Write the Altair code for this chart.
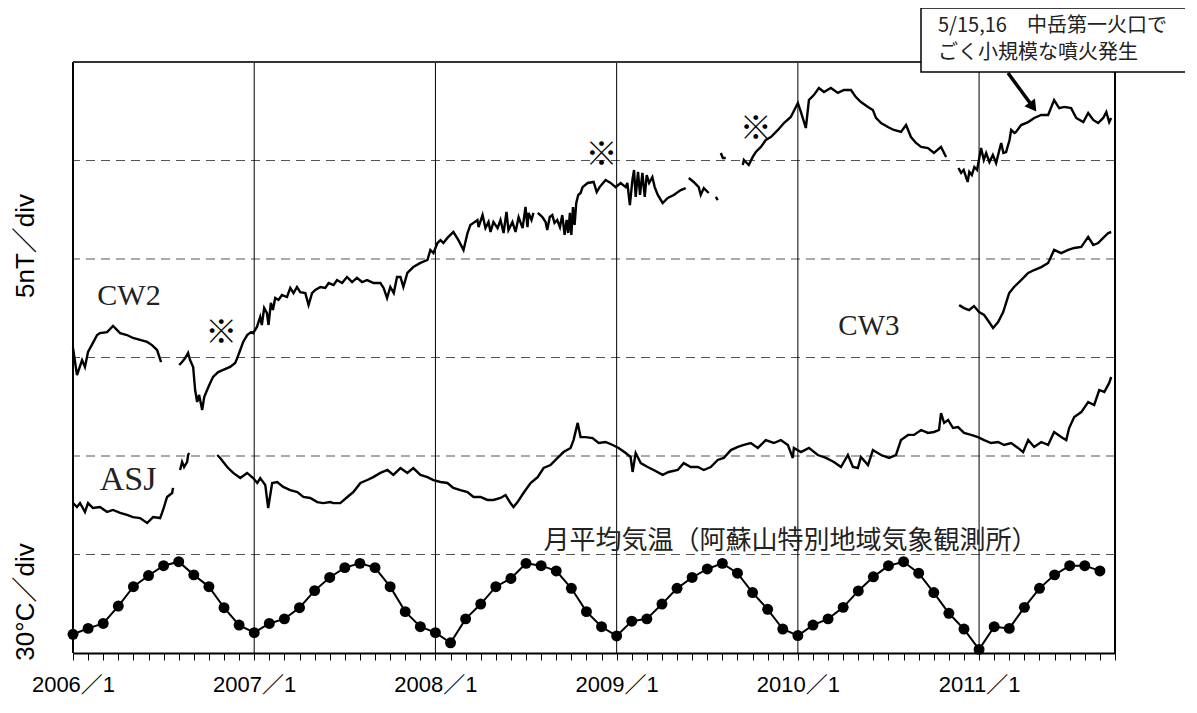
import altair as alt
import pandas as pd

# ---------------- data (decimal years, nT) ----------------
# None marks a gap in the record
CW2_T = [2006.000, 2006.022, 2006.050, 2006.066, 2006.083, 2006.110, 2006.133, 2006.149, 2006.188,
         2006.221, 2006.260, 2006.298, 2006.331, 2006.370, 2006.409, 2006.436, 2006.464, 2006.486, None,
         2006.586, 2006.602, 2006.619, 2006.635, 2006.646, 2006.663, 2006.674, 2006.685, 2006.696, 2006.713,
         2006.724, 2006.740, 2006.757, 2006.773, 2006.801, 2006.829, 2006.867, 2006.895, 2006.906, 2006.923,
         2006.939, 2006.961, 2006.983, 2006.994,
         2007.015, 2007.033, 2007.042, 2007.055, 2007.070, 2007.079, 2007.092, 2007.103, 2007.116, 2007.134,
         2007.153, 2007.181, 2007.199, 2007.217, 2007.236, 2007.254, 2007.282, 2007.300, 2007.319, 2007.337,
         2007.365, 2007.392, 2007.411, 2007.438, 2007.457, 2007.485, 2007.512, 2007.540, 2007.567, 2007.595,
         2007.623, 2007.659, 2007.696, 2007.714, 2007.733, 2007.751, 2007.770, 2007.788,
         2007.807, 2007.823, 2007.845, 2007.878, 2007.917, 2007.956, 2007.972, 2007.989,
         2008.011, 2008.028, 2008.044, 2008.066, 2008.099, 2008.127, 2008.155, 2008.177, 2008.193, 2008.232,
         2008.238, 2008.260, 2008.276, 2008.293, 2008.304, 2008.320, 2008.343, 2008.359, 2008.376, 2008.392,
         2008.403, 2008.425, 2008.442, 2008.459, 2008.481, 2008.497, 2008.508, 2008.514, 2008.530, 2008.541, None,
         2008.565, 2008.590, 2008.608, 2008.617, 2008.631, 2008.645, 2008.657, 2008.672, 2008.687, 2008.700,
         2008.713, 2008.724, 2008.733, 2008.742, 2008.750, 2008.759, 2008.768, 2008.777, 2008.788, 2008.801,
         2008.812, 2008.840, 2008.873, 2008.890, 2008.906, 2008.939, 2008.967, 2008.994,
         2009.022, 2009.050, 2009.059, 2009.073, 2009.087, 2009.096, 2009.105, 2009.118, 2009.129, 2009.142,
         2009.155, 2009.166, 2009.179, 2009.197, 2009.210, 2009.227, 2009.254, 2009.282, 2009.315, 2009.354,
         2009.381, None,
         2009.398, 2009.425, 2009.453, 2009.464, 2009.481, 2009.508, None,
         2009.547, 2009.558, None,
         2009.575, 2009.586, 2009.602, None,
         2009.696, 2009.702, 2009.729, 2009.751, 2009.768, 2009.796, 2009.823, 2009.851, 2009.890, 2009.923,
         2009.961,
         2010.000, 2010.017, 2010.044, 2010.061, 2010.088, 2010.116, 2010.144, 2010.182, 2010.221, 2010.254,
         2010.293, 2010.320, 2010.348, 2010.387, 2010.414, 2010.431, 2010.459, 2010.497, 2010.530, 2010.569,
         2010.597, 2010.624, 2010.652, 2010.680, 2010.718, 2010.751, 2010.790, 2010.818, None,
         2010.886, 2010.901, 2010.915, 2010.928, 2010.937, 2010.946, 2010.960, 2010.974, 2010.989,
         2011.002, 2011.011, 2011.026, 2011.039, 2011.057, 2011.076, 2011.094, 2011.112, 2011.122, 2011.134,
         2011.149, 2011.168, 2011.177, 2011.195,
         2011.204, 2011.232, 2011.271, 2011.304, 2011.343, 2011.381, 2011.414, 2011.442, 2011.470, 2011.508,
         2011.536, 2011.575, 2011.602, 2011.630, 2011.657, 2011.685, 2011.702, 2011.718, 2011.729]
CW2_V = [15.48, 14.11, 14.87, 14.52, 15.28, 15.74, 16.14, 16.24, 16.29,
         16.60, 16.24, 16.14, 15.99, 15.89, 15.79, 15.63, 15.38, 14.77, None,
         14.62, 14.77, 14.97, 15.23, 14.87, 14.52, 13.35, 12.74, 13.10, 12.34,
         12.99, 13.35, 13.71, 14.01, 14.26, 14.37, 14.52, 14.72, 14.97, 15.38,
         15.79, 16.14, 16.29, 16.24,
         16.55, 17.06, 16.65, 17.51, 17.26, 16.65, 17.77, 17.41, 18.02, 17.92,
         18.17, 18.07, 18.53, 18.27, 18.58, 18.32, 18.27, 17.66, 18.27, 18.43,
         18.58, 18.53, 18.78, 18.68, 18.93, 18.78, 19.09, 18.83, 19.04, 18.83,
         18.93, 18.78, 18.78, 18.53, 18.02, 18.58, 18.27, 19.09,
         19.09, 18.58, 19.29, 19.59, 19.80, 19.95, 20.46, 20.30,
         20.81, 20.96, 20.81, 21.07, 21.37, 20.96, 20.46, 21.32, 21.73, 21.98,
         21.62, 22.23, 21.57, 21.88, 21.37, 21.88, 21.57, 21.98, 21.32, 22.39,
         21.47, 21.88, 21.37, 22.13, 21.57, 22.64, 21.62, 22.34, 21.98, 22.34, None,
         22.34, 22.13, 21.88, 21.47, 22.13, 22.23, 21.83, 21.98, 21.62, 22.23,
         21.22, 21.98, 21.32, 22.34, 21.22, 22.64, 21.73, 22.84, 23.25, 23.35,
         23.65, 23.86, 23.91, 23.40, 23.65, 24.01, 23.86, 23.65,
         23.86, 23.65, 23.86, 22.74, 24.01, 24.52, 23.15, 24.42, 23.25, 24.37,
         23.15, 24.26, 23.86, 24.16, 23.65, 23.25, 22.84, 23.10, 23.25, 23.50,
         23.60, None,
         24.11, 23.91, 23.65, 23.25, 23.60, 23.35, None,
         23.15, 22.99, None,
         25.38, 25.13, 25.13, None,
         24.77, 25.03, 24.77, 25.18, 25.43, 25.69, 26.04, 26.19, 26.55, 26.90,
         27.21,
         27.92, 27.46, 26.65, 28.07, 28.32, 28.68, 28.48, 28.68, 28.43, 28.58,
         28.58, 28.22, 27.97, 27.72, 27.56, 27.16, 26.90, 26.70, 26.55, 26.45,
         26.80, 26.19, 25.89, 25.69, 25.63, 25.38, 25.69, 25.18, None,
         24.62, 24.37, 24.52, 24.16, 23.91, 24.42, 24.26, 24.67, 24.52,
         25.18, 25.63, 25.03, 25.38, 24.92, 25.28, 24.87, 25.53, 25.89, 25.38,
         25.43, 26.04, 26.55, 26.40,
         26.45, 26.80, 26.95, 27.16, 27.31, 27.31, 28.07, 27.66, 27.72, 27.66,
         27.16, 26.95, 27.41, 27.06, 26.90, 27.16, 27.46, 26.95, 27.16]

CW3_T = [2010.890, 2010.917, 2010.945, 2010.972,
         2011.000, 2011.028, 2011.055, 2011.077, 2011.105, 2011.133, 2011.166, 2011.193, 2011.232, 2011.271,
         2011.304, 2011.343, 2011.381, 2011.414, 2011.453, 2011.492, 2011.525, 2011.564, 2011.602, 2011.630,
         2011.657, 2011.685, 2011.713, 2011.729]
CW3_V = [17.66, 17.51, 17.41, 17.61,
         17.31, 17.16, 16.80, 16.50, 16.80, 17.31, 18.27, 18.58, 18.93, 19.29,
         19.44, 19.59, 19.80, 20.46, 20.30, 20.46, 20.56, 20.61, 21.12, 20.71,
         20.81, 21.07, 21.32, 21.37]

ASJ_T = [2006.000, 2006.022, 2006.039, 2006.066, 2006.083, 2006.110, 2006.149, 2006.188, 2006.221, 2006.260,
         2006.298, 2006.331, 2006.370, 2006.409, 2006.442, 2006.481, 2006.497, 2006.519, 2006.547, 2006.552, None,
         2006.591, 2006.602, 2006.613, 2006.630, 2006.635, 2006.641, None,
         2006.796, 2006.812, 2006.851, 2006.884, 2006.923, 2006.961, 2006.994,
         2007.017, 2007.033, 2007.061, 2007.077, 2007.099, 2007.127, 2007.160, 2007.199, 2007.238, 2007.271,
         2007.309, 2007.348, 2007.381, 2007.420, 2007.436, 2007.475, 2007.514, 2007.547, 2007.586, 2007.624,
         2007.657, 2007.696, 2007.735, 2007.768, 2007.807, 2007.845, 2007.878, 2007.917, 2007.956, 2007.989,
         2008.028, 2008.066, 2008.099, 2008.138, 2008.177, 2008.210, 2008.249, 2008.287, 2008.320, 2008.359,
         2008.387, 2008.414, 2008.431, 2008.453, 2008.486, 2008.525, 2008.564, 2008.597, 2008.635, 2008.674,
         2008.707, 2008.746, 2008.762, 2008.785, 2008.801, 2008.829, 2008.867, 2008.901, 2008.939, 2008.978,
         2009.011, 2009.050, 2009.077, 2009.088, 2009.105, 2009.133, 2009.171, 2009.204, 2009.254, 2009.287,
         2009.337, 2009.370, 2009.409, 2009.448, 2009.481, 2009.519, 2009.558, 2009.591, 2009.630, 2009.669,
         2009.702, 2009.740, 2009.779, 2009.823, 2009.867, 2009.906, 2009.945, 2009.972, 2009.978,
         2010.017, 2010.061, 2010.110, 2010.155, 2010.199, 2010.238, 2010.276, 2010.304, 2010.331, 2010.348,
         2010.387, 2010.414, 2010.459, 2010.503, 2010.541, 2010.569, 2010.608, 2010.641, 2010.680, 2010.718,
         2010.751, 2010.779, 2010.790, 2010.807, 2010.829, 2010.856, 2010.884, 2010.917, 2010.956, 2010.994,
         2011.028, 2011.066, 2011.105, 2011.138, 2011.177, 2011.215, 2011.243, 2011.271, 2011.304, 2011.343,
         2011.381, 2011.414, 2011.453, 2011.481, 2011.497, 2011.525, 2011.564, 2011.602, 2011.635, 2011.663,
         2011.691, 2011.718, 2011.729]
ASJ_V = [7.61, 7.41, 7.61, 7.16, 7.61, 7.36, 7.41, 7.16, 7.26, 7.11,
         7.01, 6.90, 6.85, 6.60, 6.90, 6.85, 7.26, 7.92, 8.12, 8.38, None,
         9.29, 9.70, 9.44, 9.70, 10.05, 10.15, None,
         10.05, 9.90, 9.44, 9.14, 8.88, 9.14, 8.88,
         8.63, 8.88, 8.53, 7.36, 8.63, 8.68, 8.43, 8.27, 8.17, 7.92,
         7.87, 7.66, 7.61, 7.66, 7.61, 7.61, 7.92, 8.17, 8.63, 8.78,
         8.93, 9.14, 9.29, 9.04, 9.39, 9.14, 9.39, 9.04, 8.93, 8.78,
         8.68, 8.63, 8.38, 8.27, 8.17, 7.92, 7.92, 7.77, 7.77, 7.87,
         8.02, 7.61, 7.41, 7.66, 8.12, 8.63, 8.93, 9.39, 9.54, 9.90,
         10.20, 10.41, 10.81, 11.68, 10.96, 10.96, 10.91, 10.66, 10.71, 10.56,
         10.41, 10.15, 9.95, 9.19, 10.15, 9.64, 9.44, 9.29, 9.04, 9.19,
         9.29, 9.64, 9.44, 9.44, 9.29, 9.44, 9.80, 9.90, 10.30, 10.46,
         10.56, 10.66, 10.41, 10.81, 10.66, 10.81, 10.56, 9.90, 10.41,
         10.20, 10.41, 10.05, 9.90, 9.70, 9.44, 10.05, 9.44, 9.39, 9.95,
         9.54, 10.30, 10.05, 9.90, 10.05, 10.81, 11.07, 11.07, 11.32, 11.17,
         11.22, 11.32, 12.18, 11.68, 11.83, 11.42, 11.47, 11.17, 11.07, 10.96,
         10.81, 10.66, 10.71, 10.56, 10.66, 10.41, 10.20, 10.81, 10.46, 10.71,
         10.56, 11.22, 10.96, 10.81, 11.42, 11.98, 12.23, 12.74, 12.59, 13.35,
         13.25, 13.71, 14.01]

# monthly mean air temperature (deg C), 2006/1 ... 2011/9
TEMP = [-1.3, 0.5, 2.0, 7.3, 13.2, 16.6, 19.6, 20.8, 16.8, 13.2, 6.8, 1.5,
        -0.8, 2.0, 3.4, 6.8, 12.0, 16.0, 19.0, 20.3, 19.0, 13.2, 5.6, 1.0,
        -0.8, -3.9, 3.4, 7.9, 13.2, 15.7, 20.3, 19.6, 18.0, 12.7, 5.6, 1.0,
        -1.8, 2.7, 3.4, 7.9, 12.7, 16.0, 18.6, 20.3, 17.3, 11.4, 6.3, 0.3,
        -1.7, 1.5, 3.4, 6.9, 11.9, 16.2, 19.6, 20.8, 17.3, 11.4, 5.1, 0.3,
        -5.9, 1.0, 0.5, 6.9, 12.7, 16.8, 19.6, 19.6, 18.0]
TEMP_START_YEAR = 2006
TEMP_BASE = -7.0      # deg C at the bottom of the frame
TEMP_PER_NT = 6.0     # 30 deg C/div against 5 nT/div

YEARS = [2007, 2008, 2009, 2010, 2011]
HLINES = [5, 10, 15, 20, 25]
X_MIN, X_MAX = 2006.0, 2011.75
Y_MIN, Y_MAX = 0, 30

# ---------------- tables ----------------
def to_frame(ts, vs, name):
    rows, seg = [], 0
    for t, v in zip(ts, vs):
        if t is None or v is None:
            seg += 1
            continue
        rows.append({"t": t, "v": v, "seg": f"{name}-{seg}"})
    return pd.DataFrame(rows)

mag = pd.concat([to_frame(CW2_T, CW2_V, "CW2"),
                 to_frame(CW3_T, CW3_V, "CW3"),
                 to_frame(ASJ_T, ASJ_V, "ASJ")], ignore_index=True)
temp = pd.DataFrame({"t": [TEMP_START_YEAR + i / 12 for i in range(len(TEMP))], "temp": TEMP})
one = pd.DataFrame({"k": [0]})

W, H = 1042, 591
SANS = "Liberation Sans, Noto Sans CJK JP, sans-serif"
SERIF = "Liberation Serif, Noto Sans CJK JP, serif"
CJK = "Noto Sans CJK JP"

xscale = alt.Scale(domain=[X_MIN, X_MAX], nice=False, zero=False)
yscale = alt.Scale(domain=[Y_MIN, Y_MAX], nice=False, zero=False)
month_ticks = [X_MIN + i / 12 for i in range(0, 70)]
xaxis = alt.Axis(values=month_ticks, title=None, grid=False, tickSize=7, tickColor="black",
                 tickWidth=1, domainColor="black", domainWidth=2, labelFontSize=22,
                 labelFont=SANS, labelColor="black", labelPadding=14, labelOverlap=False,
                 labelFlush=False, labelBound=False,
                 labelExpr="abs(datum.value - round(datum.value)) < 0.001 ? round(datum.value) + '／1' : ''")


def X(f):
    return alt.X(f, type="quantitative", scale=xscale, axis=xaxis)


def Y(f):
    return alt.Y(f, type="quantitative", scale=yscale, axis=None)


hl = alt.Chart(pd.DataFrame({"v": HLINES})).mark_rule(
    color="#555555", strokeWidth=1.2, strokeDash=[9, 6]).encode(y=Y("v"))
yl = alt.Chart(pd.DataFrame({"t": YEARS})).mark_rule(color="black", strokeWidth=1).encode(x=X("t"))
frame_v = alt.Chart(pd.DataFrame({"t": [X_MIN, X_MAX]})).mark_rule(
    color="black", strokeWidth=2).encode(x=X("t"))
frame_h = alt.Chart(pd.DataFrame({"v": [Y_MAX]})).mark_rule(
    color="#333333", strokeWidth=2).encode(y=Y("v"))

mag_line = alt.Chart(mag).mark_line(color="black", strokeWidth=2.4, interpolate="linear").encode(
    x=X("t"), y=Y("v"), detail="seg:N", order="t:Q")

temp_base = alt.Chart(temp).transform_calculate(
    v=f"(datum.temp - ({TEMP_BASE})) / {TEMP_PER_NT}")
temp_line = temp_base.mark_line(color="black", strokeWidth=2).encode(x=X("t"), y=Y("v"))
temp_pts = temp_base.mark_point(filled=True, color="black", size=120, opacity=1).encode(
    x=X("t"), y=Y("v"))

serif_labels = alt.Chart(pd.DataFrame({
    "t": [2006.309, 2006.304, 2010.392],
    "v": [18.12, 8.78, 16.60],
    "label": ["CW2", "ASJ", "CW3"],
    "fs": [30, 34, 29]})).mark_text(
    font=SERIF, color="#222222", align="center", baseline="middle").encode(
    x=X("t"), y=Y("v"), text="label:N", size=alt.Size("fs:Q", scale=None, legend=None))

marks = alt.Chart(pd.DataFrame({
    "t": [2006.818, 2008.917, 2009.768],
    "v": [16.24, 25.28, 26.60],
    "label": ["※", "※", "※"]})).mark_text(
    font=CJK, fontSize=32, color="black", align="center", baseline="middle").encode(
    x=X("t"), y=Y("v"), text="label:N")

temp_label = alt.Chart(pd.DataFrame({
    "t": [2008.597], "v": [5.69],
    "label": ["月平均気温（阿蘇山特別地域気象観測所）"]})).mark_text(
    font=CJK, fontSize=26, color="#222222", align="left", baseline="middle").encode(
    x=X("t"), y=Y("v"), text="label:N")

ytitle1 = alt.Chart(one).mark_text(text="5nT／div", font=SANS, fontSize=26, angle=270,
                                   color="black", align="center", baseline="middle").encode(
    x=alt.value(-47), y=alt.value(184))
ytitle2 = alt.Chart(one).mark_text(text="30°C／div", font=SANS, fontSize=26, angle=270,
                                   color="black", align="center", baseline="middle").encode(
    x=alt.value(-47), y=alt.value(540))

box = alt.Chart(one).mark_rect(fill="white", stroke="black", strokeWidth=1.5).encode(
    x=alt.value(848), x2=alt.value(1121), y=alt.value(-54), y2=alt.value(10))
box_t1 = alt.Chart(one).mark_text(text="5/15,16\u3000中岳第一火口で", font=CJK, fontSize=20,
                                  color="#222222", align="left", baseline="middle").encode(
    x=alt.value(865), y=alt.value(-36))
box_t2 = alt.Chart(one).mark_text(text="ごく小規模な噴火発生", font=CJK, fontSize=20,
                                  color="#222222", align="left", baseline="middle").encode(
    x=alt.value(865), y=alt.value(-9))
arrow = alt.Chart(one).mark_rule(color="black", strokeWidth=3.5).encode(
    x=alt.value(935), y=alt.value(11), x2=alt.value(960), y2=alt.value(45))
head = alt.Chart(one).mark_point(shape="triangle-up", filled=True, color="black", size=170,
                                 angle=144, opacity=1).encode(x=alt.value(960), y=alt.value(45))

chart = alt.layer(
    hl, yl, mag_line, temp_line, temp_pts, serif_labels, marks, temp_label,
    frame_v, frame_h, box, box_t1, box_t2, arrow, head, ytitle1, ytitle2
).properties(
    width=W, height=H,
    autosize=alt.AutoSizeParams(type="none"),
    padding={"left": 65, "top": 54, "right": 70, "bottom": 45},
).configure_view(stroke=None).configure(background="white")

chart.save("out.html", embed_options={"renderer": "svg", "actions": False})
